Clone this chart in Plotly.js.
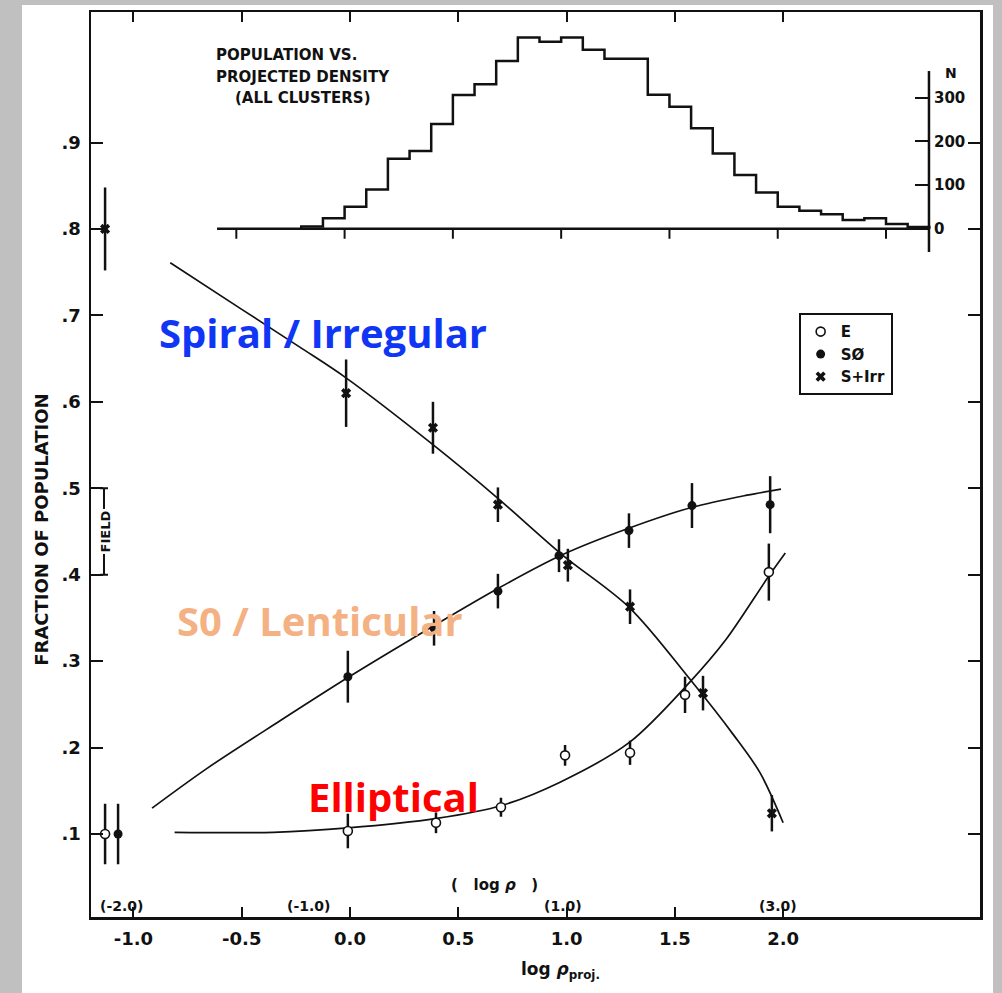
<!DOCTYPE html>
<html>
<head>
<meta charset="utf-8">
<script src="https://cdn.plot.ly/plotly-3.0.1.min.js"></script>
<style>
  html, body { margin: 0; padding: 0; background: #c0c0c0; }
  #chart { width: 1002px; height: 993px; }
</style>
</head>
<body>
<div id="chart"></div>
<script>
// ---------------- data ----------------
// Elliptical (open circles)
const eX   = [-1.131, -0.010, 0.397, 0.697, 0.993, 1.293, 1.547, 1.934];
const eY   = [0.100, 0.1035, 0.113, 0.131, 0.191, 0.194, 0.261, 0.403];
const eErr = [0.035, 0.020, 0.012, 0.011, 0.012, 0.014, 0.021, 0.033];

// S0 (filled circles)
const s0X   = [-1.071, -0.010, 0.388, 0.683, 0.965, 1.288, 1.579, 1.940];
const s0Y   = [0.100, 0.282, 0.338, 0.381, 0.422, 0.451, 0.480, 0.481];
const s0Err = [0.035, 0.030, 0.020, 0.020, 0.019, 0.020, 0.026, 0.033];

// S + Irr (crosses)
const spX   = [-1.131, -0.018, 0.383, 0.683, 1.006, 1.293, 1.630, 1.948];
const spY   = [0.800, 0.610, 0.570, 0.481, 0.411, 0.363, 0.263, 0.124];
const spErr = [0.048, 0.039, 0.030, 0.020, 0.019, 0.020, 0.020, 0.021];

// hand-drawn fit curves
const spCurveX = [-0.83, -0.50, -0.23, -0.02, 0.38, 0.68, 0.98, 1.29, 1.57, 1.77, 1.893, 2.00];
const spCurveY = [0.761, 0.707, 0.663, 0.628, 0.551, 0.489, 0.423, 0.362, 0.279, 0.215, 0.171, 0.113];
const s0CurveX = [-0.914, -0.66, -0.323, -0.01, 0.277, 0.683, 0.98, 1.29, 1.58, 1.833, 1.99];
const s0CurveY = [0.130, 0.176, 0.231, 0.281, 0.3245, 0.384, 0.423, 0.454, 0.478, 0.492, 0.499];
const eCurveX  = [-0.81, -0.355, -0.01, 0.40, 0.70, 0.97, 1.29, 1.57, 1.736, 1.93, 2.01];
const eCurveY  = [0.102, 0.102, 0.107, 0.118, 0.133, 0.160, 0.206, 0.276, 0.325, 0.397, 0.425];

// field marker (range bar labelled FIELD)
const fieldX = [-1.136];
const fieldMid = [0.45];
const fieldHalf = [0.05];

// histogram: population vs projected density (all clusters)
const histLeft = [-0.225, -0.125, -0.025, 0.075, 0.175, 0.275, 0.375, 0.475, 0.575, 0.675,
                  0.775, 0.875, 0.975, 1.075, 1.175, 1.275, 1.375, 1.475, 1.575, 1.675,
                  1.775, 1.875, 1.975, 2.075, 2.175, 2.275, 2.375, 2.475, 2.575];
const histN    = [5, 24, 50, 90, 160, 178, 240, 306, 331, 384,
                  438, 428, 438, 410, 389, 389, 307, 279, 230, 172,
                  123, 83, 50, 41, 33, 20, 24, 11, 4];
const histRightEdge = 2.675;
const histBase = [-0.614, 2.675];
const histTicks = [-0.525, -0.025, 0.475, 0.975, 1.475, 1.975, 2.475];

// tick labels
const xTickVals = [-1.0, -0.5, 0.0, 0.5, 1.0, 1.5, 2.0];
const xTickText = ['-1.0', '-0.5', '0.0', '0.5', '1.0', '1.5', '2.0'];
const yTickVals = [0.1, 0.2, 0.3, 0.4, 0.5, 0.6, 0.7, 0.8, 0.9];
const yTickText = ['.1', '.2', '.3', '.4', '.5', '.6', '.7', '.8', '.9'];
const nTickVals = [0, 100, 200, 300];
const rhoTickX  = [-1.053, -0.194, 0.983, 1.976];
const rhoTickText = ['(-2.0)', '(-1.0)', '(1.0)', '(3.0)'];

// ---------------- build ----------------
const INK = '#111';
const FONT = 'DejaVu Sans, Liberation Sans, Arial, sans-serif';
const LABEL_FONT = 'Open Sans, Lato, sans-serif';

const histXs = [histLeft[0]].concat(histLeft, [histRightEdge]);
const histYs = [0].concat(histN, [0]);

function errBar(arr, thick) {
  return { type: 'data', array: arr, visible: true, color: INK, thickness: thick, width: 0 };
}

const traces = [
  { x: histXs, y: histYs, yaxis: 'y2', mode: 'lines', line: { shape: 'hv', color: INK, width: 2.5 },
    showlegend: false, hoverinfo: 'skip' },
  { x: histBase, y: histBase.map(() => 0), yaxis: 'y2', mode: 'lines', line: { color: INK, width: 2.5 },
    showlegend: false, hoverinfo: 'skip' },
  { x: histTicks, y: histTicks.map(() => 0), yaxis: 'y2', mode: 'markers',
    marker: { size: 1, color: 'rgba(0,0,0,0)' },
    error_y: { type: 'constant', symmetric: false, value: 0, valueminus: 23, color: INK, thickness: 2, width: 0 },
    showlegend: false, hoverinfo: 'skip' },
  { x: spCurveX, y: spCurveY, mode: 'lines', line: { shape: 'spline', smoothing: 0.9, color: INK, width: 1.7 },
    showlegend: false, hoverinfo: 'skip' },
  { x: s0CurveX, y: s0CurveY, mode: 'lines', line: { shape: 'spline', smoothing: 0.9, color: INK, width: 1.7 },
    showlegend: false, hoverinfo: 'skip' },
  { x: eCurveX, y: eCurveY, mode: 'lines', line: { shape: 'spline', smoothing: 0.9, color: INK, width: 1.7 },
    showlegend: false, hoverinfo: 'skip' },
  { x: fieldX, y: fieldMid, mode: 'markers', marker: { size: 1, color: 'rgba(0,0,0,0)' },
    error_y: { type: 'data', array: fieldHalf, color: INK, thickness: 2, width: 4 },
    showlegend: false, hoverinfo: 'skip' },
  { name: 'E', x: eX, y: eY, mode: 'markers',
    marker: { symbol: 'circle', size: 9, color: '#fff', line: { color: INK, width: 1.6 } },
    error_y: errBar(eErr, 2.5) },
  { name: 'SØ', x: s0X, y: s0Y, mode: 'markers',
    marker: { symbol: 'circle', size: 9, color: INK, line: { color: INK, width: 0 } },
    error_y: errBar(s0Err, 2.5) },
  { name: 'S+Irr', x: spX, y: spY, mode: 'markers',
    marker: { symbol: 'x', size: 9, color: INK, line: { color: INK, width: 0 } },
    error_y: errBar(spErr, 2.5) }
];

const annotations = [
  { text: '<b>Spiral / Irregular</b>', x: -0.127, y: 0.680, xref: 'x', yref: 'y', showarrow: false,
    xanchor: 'center', yanchor: 'middle', font: { family: LABEL_FONT, size: 40, color: '#1036F5' } },
  { text: '<b>S0 / Lenticular</b>', x: -0.139, y: 0.3465, xref: 'x', yref: 'y', showarrow: false,
    xanchor: 'center', yanchor: 'middle', font: { family: LABEL_FONT, size: 40, color: '#F4B183' } },
  { text: '<b>Elliptical</b>', x: 0.203, y: 0.143, xref: 'x', yref: 'y', showarrow: false,
    xanchor: 'center', yanchor: 'middle', font: { family: LABEL_FONT, size: 40, color: '#FF0000' } },

  { text: '<b>POPULATION VS.</b>', x: -0.628, y: 1.0016, xref: 'x', yref: 'y', showarrow: false,
    xanchor: 'left', yanchor: 'middle', font: { family: FONT, size: 15, color: INK } },
  { text: '<b>PROJECTED DENSITY</b>', x: -0.628, y: 0.9762, xref: 'x', yref: 'y', showarrow: false,
    xanchor: 'left', yanchor: 'middle', font: { family: FONT, size: 15, color: INK } },
  { text: '<b>(ALL CLUSTERS)</b>', x: -0.540, y: 0.9519, xref: 'x', yref: 'y', showarrow: false,
    xanchor: 'left', yanchor: 'middle', font: { family: FONT, size: 15, color: INK } },

  { text: '<b>N</b>', x: 2.775, y: 0.9326, xref: 'x', yref: 'paper', showarrow: false,
    xanchor: 'center', yanchor: 'middle', font: { family: FONT, size: 14, color: INK } },

  { text: '<b>FRACTION OF POPULATION</b>', x: -0.0551, y: 0.452, xref: 'paper', yref: 'y', showarrow: false,
    textangle: -90, xanchor: 'center', yanchor: 'middle', font: { family: FONT, size: 18, color: INK } },

  { text: '<b>FIELD</b>', x: fieldX[0] + 0.009, y: fieldMid[0], xref: 'x', yref: 'y', showarrow: false,
    textangle: -90, bgcolor: '#fff', borderpad: 1, font: { family: FONT, size: 13, color: INK } },

  { text: '<b>(   log <i>ρ</i>   )</b>', x: 0.665, y: 0.041, xref: 'x', yref: 'y', showarrow: false,
    xanchor: 'center', yanchor: 'middle', font: { family: FONT, size: 15, color: INK } },

  { text: '<b>log <i>ρ</i><sub>proj.</sub></b>', x: 0.970, y: -0.0586, xref: 'x', yref: 'paper', showarrow: false,
    xanchor: 'center', yanchor: 'middle', font: { family: FONT, size: 17, color: INK } }
];
rhoTickX.forEach((xv, i) => {
  annotations.push({ text: '<b>' + rhoTickText[i] + '</b>', x: xv, y: 0.0167, xref: 'x', yref: 'y',
    showarrow: false, xanchor: 'center', yanchor: 'middle', font: { family: FONT, size: 14, color: INK } });
});

const layout = {
  width: 1002, height: 993,
  margin: { l: 91, r: 22, t: 12, b: 76 },
  paper_bgcolor: '#c0c0c0',
  plot_bgcolor: '#ffffff',
  font: { family: FONT, color: INK, size: 16 },
  showlegend: true,
  legend: { x: 0.796, y: 0.667, xanchor: 'left', yanchor: 'top', bgcolor: '#fff',
            bordercolor: INK, borderwidth: 2, traceorder: 'normal', itemwidth: 30,
            font: { family: FONT, size: 15, color: INK, weight: 'bold' } },
  xaxis: { range: [-1.196, 2.909], showgrid: false, zeroline: false, showline: true, linewidth: 2.5,
           linecolor: INK, mirror: 'ticks', ticks: 'inside', ticklen: 10, tickwidth: 2, tickcolor: INK,
           tickvals: xTickVals, ticktext: xTickText, ticklabelstandoff: 4,
           tickfont: { family: FONT, size: 18, color: INK, weight: 'bold' } },
  yaxis: { range: [0.004, 1.051], showgrid: false, zeroline: false, showline: true, linewidth: 2.5,
           linecolor: INK, mirror: 'ticks', ticks: 'inside', ticklen: 12, tickwidth: 2, tickcolor: INK,
           tickvals: yTickVals, ticktext: yTickText, ticklabelstandoff: 4,
           tickfont: { family: FONT, size: 18, color: INK, weight: 'bold' } },
  yaxis2: { overlaying: 'y', anchor: 'free', position: 0.9426, side: 'right',
            range: [-1576.1, 496.2], showgrid: false, zeroline: false, showline: false,
            ticks: 'inside', ticklen: 14, tickwidth: 2, tickcolor: INK,
            tickvals: nTickVals, ticklabelstandoff: 4,
            tickfont: { family: FONT, size: 15, color: INK, weight: 'bold' } },
  shapes: [
    { type: 'rect', xref: 'paper', yref: 'paper', x0: -0.0776, x1: 1.0146, y0: -0.084, y1: 1.0077,
      fillcolor: '#ffffff', line: { width: 0 }, layer: 'below' },
    { type: 'line', xref: 'paper', yref: 'y2', x0: 0.9426, x1: 0.9426, y0: -53.4, y1: 361,
      line: { color: INK, width: 2.5 } }
  ],
  annotations: annotations
};

Plotly.newPlot('chart', traces, layout, { displayModeBar: false, staticPlot: true });
</script>
</body>
</html>
